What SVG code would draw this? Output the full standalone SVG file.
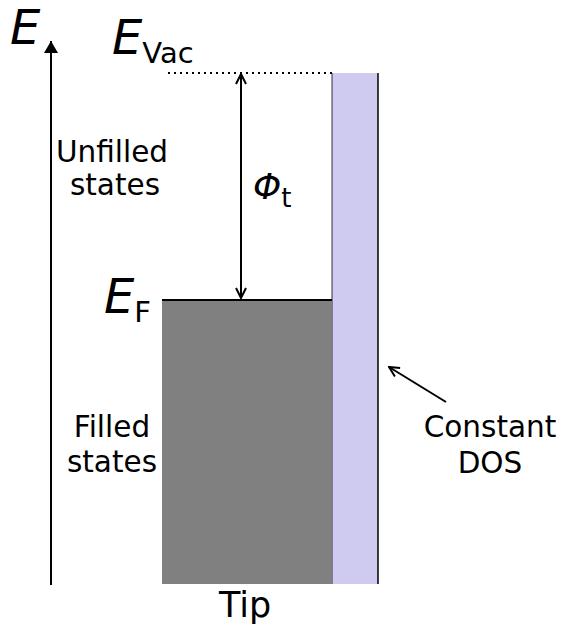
<svg xmlns="http://www.w3.org/2000/svg" width="561" height="630" viewBox="0 0 561 630">
<defs>
<style>
.lbl{font-family:"DejaVu Sans","Liberation Sans",sans-serif;font-size:29.5px;fill:#000;text-anchor:middle}
.sym{font-family:"DejaVu Sans","Liberation Sans",sans-serif;font-style:italic;fill:#000}
.sub{font-family:"DejaVu Sans","Liberation Sans",sans-serif;fill:#000}
.ln{stroke:#000;stroke-width:2;fill:none}
</style>
<marker id="open" viewBox="0 0 12 12" refX="11" refY="6" markerWidth="12" markerHeight="12" markerUnits="userSpaceOnUse" orient="auto-start-reverse">
<path d="M1,1 L11,6 L1,11" fill="none" stroke="#000" stroke-width="2"/>
</marker>
<marker id="solid" viewBox="0 0 12 14" refX="12" refY="7" markerWidth="12" markerHeight="14" markerUnits="userSpaceOnUse" orient="auto">
<path d="M0,0 L12,7 L0,14 Z" fill="#000"/>
</marker>
</defs>
<rect width="561" height="630" fill="#fff"/>
<g id="dos-band">
<rect x="332" y="73" width="46" height="511" fill="#cfcaf0"/>
<line x1="378" y1="73" x2="378" y2="584" stroke="#000" stroke-width="1.5"/>
<line x1="332" y1="73" x2="332" y2="584" stroke="#000" stroke-width="0.8"/>
</g>
<g id="filled-block">
<rect x="162" y="300" width="170" height="284" fill="#808080"/>
<line x1="162" y1="300" x2="332" y2="300" stroke="#000" stroke-width="2"/>
</g>
<g id="vacuum-level">
<line x1="168" y1="73" x2="332" y2="73" stroke="#000" stroke-width="2" stroke-dasharray="2,4"/>
</g>
<g id="connectors">
<line class="ln" x1="51" y1="585" x2="51" y2="41" marker-end="url(#solid)"/>
<line class="ln" x1="241" y1="74" x2="241" y2="298" marker-start="url(#open)" marker-end="url(#open)"/>
<line class="ln" x1="446" y1="402" x2="389" y2="367" marker-end="url(#open)"/>
</g>
<g id="axis-label"><text class="sym" x="10" y="44" font-size="48">E</text></g>
<g id="evac-label"><text x="112" y="54"><tspan class="sym" font-size="48">E</tspan><tspan class="sub" font-size="29" dy="9">Vac</tspan></text></g>
<g id="ef-label"><text x="104" y="313"><tspan class="sym" font-size="48">E</tspan><tspan class="sub" font-size="29" dy="9">F</tspan></text></g>
<g id="phi-label"><text x="253" y="199"><tspan class="sym" font-size="36">Φ</tspan><tspan class="sub" font-size="26" dy="8">t</tspan></text></g>
<g id="unfilled"><text class="lbl" x="112" y="162">Unfilled</text><text class="lbl" x="115" y="195">states</text></g>
<g id="filled"><text class="lbl" x="112" y="437">Filled</text><text class="lbl" x="112" y="472">states</text></g>
<g id="constant-dos"><text class="lbl" x="490" y="437">Constant</text><text class="lbl" x="490" y="473">DOS</text></g>
<g id="tip"><text class="lbl" x="245" y="617" style="font-size:35px">Tip</text></g>
</svg>
